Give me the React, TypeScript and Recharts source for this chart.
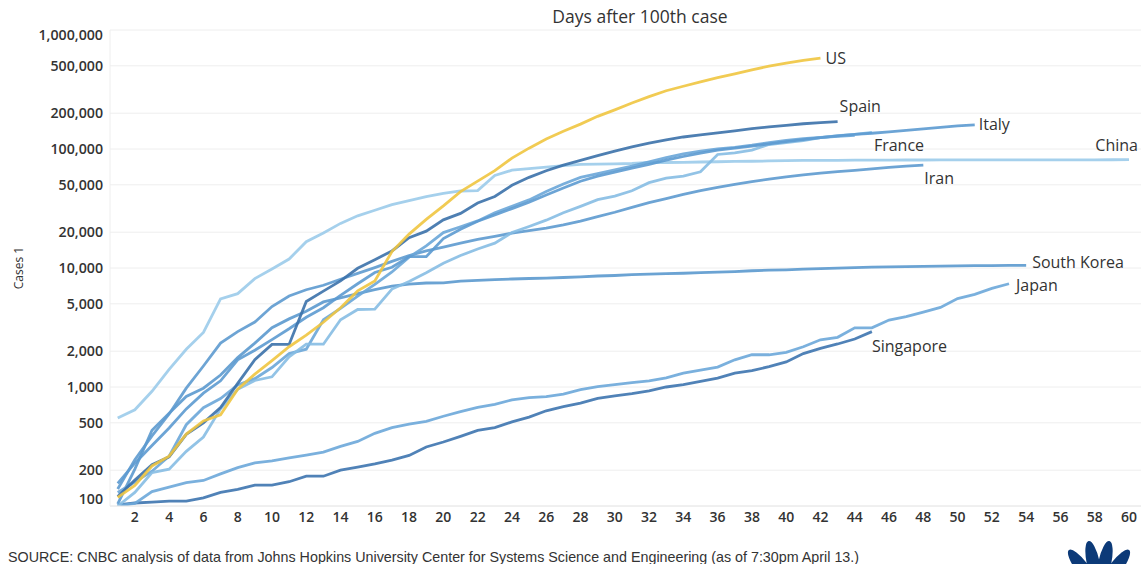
import React from 'react'
import { LineChart, Line, XAxis, YAxis, CartesianGrid } from 'recharts'

// cumulative confirmed cases, day 1 = first day with 100+ cases
const us = [118, 149, 217, 262, 402, 518, 583, 959, 1281, 1663, 2179, 2727, 3499, 4632, 6421, 7783, 13747, 19273, 25600, 33276, 43847, 53740, 65778, 83836, 101657, 121465, 140909, 161831, 188172, 213242, 243622, 275367, 308650, 336802, 366317, 397121, 428654, 462780, 496535, 526396, 555313, 580619]
const spain = [120, 165, 222, 259, 400, 500, 673, 1073, 1695, 2277, 2277, 5232, 6391, 7798, 9942, 11748, 13910, 17963, 20410, 25374, 28768, 35136, 39885, 49515, 57786, 65719, 73235, 80110, 87956, 95923, 104118, 112065, 119199, 126168, 131646, 136675, 141942, 148220, 153222, 158273, 163027, 166831, 170099]
const italy = [155, 229, 322, 453, 655, 888, 1128, 1694, 2036, 2502, 3089, 3858, 4636, 5883, 7375, 9172, 10149, 12462, 12462, 17660, 21157, 24747, 27980, 31506, 35713, 41035, 47021, 53578, 59138, 63927, 69176, 74386, 80589, 86498, 92472, 97689, 101739, 105792, 110574, 115242, 119827, 124632, 128948, 132547, 135586, 139422, 143626, 147577, 152271, 156363, 159516]
const france = [100, 130, 191, 204, 288, 380, 656, 957, 1134, 1217, 1792, 2289, 2289, 3672, 4480, 4513, 6650, 7699, 9105, 10947, 12726, 14431, 16176, 19856, 22304, 25233, 29155, 32964, 37575, 40174, 44550, 52128, 56989, 59105, 64338, 89953, 92839, 98010, 109069, 112950, 117749, 124869, 129654, 132591, 137877]
const germany = [130, 159, 196, 262, 482, 670, 799, 1040, 1176, 1457, 1908, 2078, 3675, 4585, 5795, 7272, 9257, 12327, 15320, 19848, 22213, 24873, 29056, 32986, 37323, 43938, 50871, 57695, 62095, 66885, 71808, 77872, 84794, 91159, 96092, 100123, 103374, 107663, 113296, 118181, 122171, 124908, 127854, 130072]
const china = [548, 643, 920, 1406, 2075, 2877, 5509, 6087, 8141, 9802, 11891, 16630, 19716, 23707, 27440, 30587, 34110, 36814, 39829, 42354, 44386, 44759, 59895, 66358, 68413, 70513, 72434, 74211, 74619, 75077, 75550, 77001, 77022, 77241, 77754, 78166, 78600, 78928, 79356, 79932, 80136, 80261, 80386, 80537, 80690, 80770, 80823, 80860, 80887, 80921, 80932, 80945, 80977, 81003, 81033, 81058, 81102, 81156, 81250, 81305]
const iran = [139, 245, 388, 593, 978, 1501, 2336, 2922, 3513, 4747, 5823, 6566, 7161, 8042, 9000, 10075, 11364, 12729, 13938, 14991, 16169, 17361, 18407, 19644, 20610, 21638, 23049, 24811, 27017, 29406, 32332, 35408, 38309, 41495, 44605, 47593, 50468, 53183, 55743, 58226, 60500, 62589, 64586, 66220, 68192, 70029, 71686, 73303]
const southKorea = [104, 204, 433, 602, 833, 977, 1261, 1766, 2337, 3150, 3736, 4335, 5186, 5621, 6088, 6593, 7041, 7314, 7478, 7513, 7755, 7869, 7979, 8086, 8162, 8236, 8320, 8413, 8565, 8652, 8799, 8897, 8961, 9037, 9137, 9241, 9332, 9478, 9583, 9661, 9786, 9887, 9976, 10062, 10156, 10237, 10284, 10331, 10384, 10423, 10450, 10480, 10512, 10537]
const japan = [100, 105, 132, 144, 157, 164, 186, 210, 230, 239, 254, 268, 284, 317, 349, 408, 455, 488, 514, 568, 620, 675, 716, 780, 814, 829, 873, 950, 1007, 1046, 1089, 1128, 1193, 1307, 1387, 1468, 1693, 1866, 1866, 1953, 2178, 2495, 2617, 3139, 3139, 3654, 3906, 4257, 4667, 5530, 6005, 6748, 7370]
const singapore = [102, 106, 108, 110, 110, 117, 130, 138, 150, 150, 160, 178, 178, 200, 212, 226, 243, 266, 313, 345, 385, 432, 455, 509, 558, 631, 683, 732, 802, 844, 879, 926, 1000, 1049, 1114, 1189, 1309, 1375, 1481, 1623, 1910, 2108, 2299, 2532, 2918]

const xTicks = [2, 4, 6, 8, 10, 12, 14, 16, 18, 20, 22, 24, 26, 28, 30, 32, 34, 36, 38, 40, 42, 44, 46, 48, 50, 52, 54, 56, 58, 60]
const yTicks = [100, 200, 500, 1000, 2000, 5000, 10000, 20000, 50000, 100000, 200000, 500000, 1000000]

const FONT = '"Open Sans", "DejaVu Sans", sans-serif'

type Series = {
  key: string;
  name: string;
  values: number[];
  color: string;
  dx: number;
  dy: number;
  anchor: 'start' | 'end';
}

// drawing order: last one on top
const series: Series[] = [
  { key: 'china', name: 'China', values: china, color: '#9bcbea', dx: 9, dy: -9, anchor: 'end' },
  { key: 'singapore', name: 'Singapore', values: singapore, color: '#3d74af', dx: 0, dy: 20, anchor: 'start' },
  { key: 'japan', name: 'Japan', values: japan, color: '#6ba7d9', dx: 7, dy: 7, anchor: 'start' },
  { key: 'southKorea', name: 'South Korea', values: southKorea, color: '#5b99ce', dx: 6, dy: 3, anchor: 'start' },
  { key: 'iran', name: 'Iran', values: iran, color: '#5d9acf', dx: 1, dy: 19, anchor: 'start' },
  { key: 'germany', name: '', values: germany, color: '#6aa6d8', dx: 0, dy: 0, anchor: 'start' },
  { key: 'france', name: 'France', values: france, color: '#86bce3', dx: 2, dy: 19, anchor: 'start' },
  { key: 'italy', name: 'Italy', values: italy, color: '#5c9ad0', dx: 4, dy: 5, anchor: 'start' },
  { key: 'spain', name: 'Spain', values: spain, color: '#3b71aa', dx: 2, dy: -10, anchor: 'start' },
  { key: 'us', name: 'US', values: us, color: '#efc540', dx: 5, dy: 6, anchor: 'start' },
]

const rows = Array.from({ length: 60 }, (_, i) => {
  const row: Record<string, number | undefined> = { day: i + 1 }
  series.forEach((s) => { row[s.key] = s.values[i] })
  return row
})

const YTick = ({ x, y, payload }: any) => {
  let shift = 0
  if (payload.value === 100) shift = -7
  if (payload.value === 1000000) shift = 5
  return (
    <text x={x} y={y + shift} dy={5} textAnchor="end" fontSize={14.2} fontWeight={600} fill="#333" fontFamily={FONT}>
      {payload.value.toLocaleString('en-US')}
    </text>
  )
}

const XTick = ({ x, y, payload }: any) => (
  <text x={x} y={y} dy={12} textAnchor="middle" fontSize={14} fontWeight={600} fill="#333" fontFamily={FONT}>
    {payload.value}
  </text>
)

const endLabel = (s: Series) => (props: any) => {
  const { cx, cy, index } = props
  if (index !== s.values.length - 1 || !s.name) return <g key={`${s.key}-${index}`} />
  return (
    <text key={`${s.key}-label`} x={cx + s.dx} y={cy + s.dy} textAnchor={s.anchor} fontSize={16} fill="#333" fontFamily={FONT}>
      {s.name}
    </text>
  )
}

function Peacock() {
  const angles = [-62, -37, -12, 12, 37, 62]
  return (
    <g fill="#0c3a78">
      {angles.map((a) => (
        <ellipse key={a} cx={1099} cy={562} rx={6.5} ry={22} transform={`rotate(${a} 1099 590)`} />
      ))}
    </g>
  )
}

export default function App() {
  return (
    <div style={{ position: 'absolute', left: 0, top: 0, width: 1146, height: 564, background: '#fff', overflow: 'hidden' }}>
      <LineChart width={1146} height={564} data={rows} margin={{ top: 30, right: 5, left: 0, bottom: 0 }}>
        <CartesianGrid vertical={false} stroke="#eeeeee" />
        <XAxis
          dataKey="day"
          type="number"
          domain={[0.55, 60.7]}
          ticks={xTicks}
          interval={0}
          height={58}
          tickLine={false}
          tickSize={0}
          tickMargin={4}
          axisLine={{ stroke: '#e8e8e8' }}
          tick={<XTick />}
        />
        <YAxis
          scale="log"
          domain={[100, 1000000]}
          ticks={yTicks}
          interval={0}
          width={110}
          tickLine={false}
          tickSize={0}
          tickMargin={7}
          axisLine={{ stroke: '#eeeeee' }}
          tick={<YTick />}
          allowDataOverflow
        />
        {series.map((s) => (
          <Line
            key={s.key}
            dataKey={s.key}
            type="linear"
            stroke={s.color}
            strokeWidth={2.8}
            strokeOpacity={0.9}
            dot={endLabel(s)}
            activeDot={false}
            isAnimationActive={false}
          />
        ))}
      </LineChart>
      <svg width={1146} height={564} style={{ position: 'absolute', left: 0, top: 0, pointerEvents: 'none' }}>
        <text x={640} y={23} textAnchor="middle" fontSize={17.5} fill="#333" fontFamily={FONT}>Days after 100th case</text>
        <text x={0} y={0} transform="translate(23 268) rotate(-90)" textAnchor="middle" fontSize={12} fill="#333" fontFamily={FONT}>Cases 1</text>
        <text x={8} y={562} fontSize={14.3} fill="#333" fontFamily='"Liberation Sans", Arial, sans-serif'>
          SOURCE: CNBC analysis of data from Johns Hopkins University Center for Systems Science and Engineering (as of 7:30pm April 13.)
        </text>
        <Peacock />
      </svg>
    </div>
  )
}
